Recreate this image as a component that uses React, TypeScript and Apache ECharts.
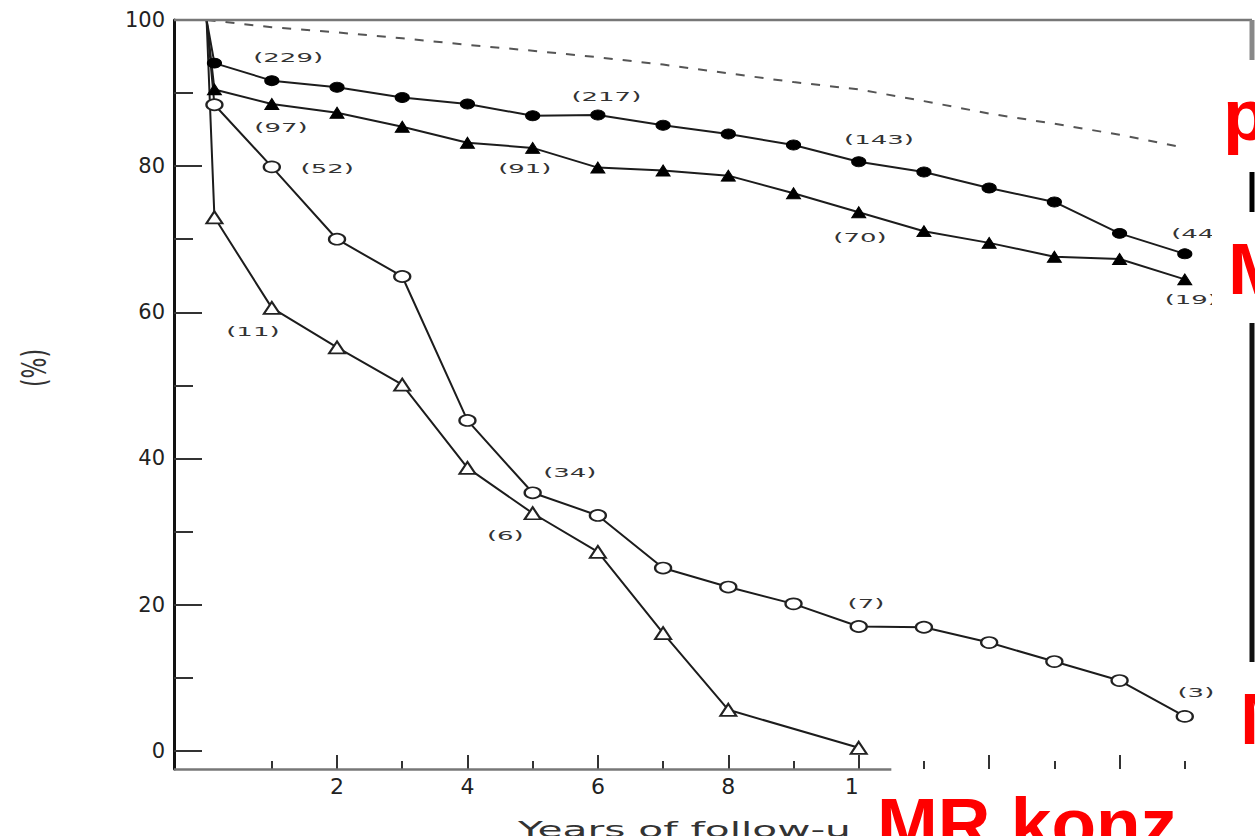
import React, { useEffect, useRef } from "react";
import * as echarts from "echarts";

// ---- data ----
const seriesYears = [0.12, 1, 2, 3, 4, 5, 6, 7, 8, 9, 10, 11, 12, 13, 14, 15];
const filledCircles = [94.1, 91.7, 90.8, 89.4, 88.5, 86.9, 87.0, 85.6, 84.4, 82.9, 80.6, 79.2, 77.0, 75.1, 70.8, 68.0];
const filledTriangles = [90.5, 88.5, 87.3, 85.4, 83.2, 82.5, 79.8, 79.4, 78.7, 76.3, 73.7, 71.1, 69.5, 67.6, 67.3, 64.5];
const openCircles = [88.4, 79.9, 70.0, 64.9, 45.2, 35.3, 32.2, 25.0, 22.4, 20.1, 17.0, 16.9, 14.8, 12.2, 9.6, 4.7];
const openTriangleYears = [0.12, 1, 2, 3, 4, 5, 6, 7, 8, 10];
const openTriangles = [73.0, 60.6, 55.2, 50.1, 38.7, 32.5, 27.2, 16.1, 5.6, 0.4];
const expectedYears = [0, 1, 2, 3, 4, 5, 6, 7, 8, 9, 10, 11, 12, 13, 14, 15];
const expected = [100, 99.0, 98.3, 97.5, 96.6, 95.8, 94.9, 93.9, 92.7, 91.5, 90.5, 88.9, 87.2, 85.8, 84.3, 82.5];

const annotationTexts = ["(229)", "(97)", "(52)", "(11)", "(217)", "(91)", "(143)", "(70)", "(44)", "(19)", "(34)", "(6)", "(7)", "(3)"];
const annotationX = [1.25, 1.14, 1.85, 0.71, 6.13, 4.88, 10.31, 10.02, 15.2, 15.1, 5.57, 4.58, 10.11, 15.17];
const annotationY = [94.8, 85.3, 79.6, 57.4, 89.5, 79.6, 83.7, 70.2, 70.8, 61.7, 38.1, 29.4, 20.1, 7.9];

const yLabelValues = [0, 20, 40, 60, 80, 100];
const yMinorTicks = [10, 30, 50, 70, 90];
const xLabelValues = [2, 4, 6, 8, 10];
const xMajorTicks = [2, 4, 6, 8, 10, 12, 14];
const xMinorTicks = [1, 3, 5, 7, 9, 11, 13, 15];

const yAxisTitle = "(%)";
const xAxisTitle = "Years of follow-u";
const redLabels = ["p", "M", "M", "MR konz"];

const X_MIN = -0.5;
const X_MAX = 16;
const Y_MIN = -2.5;
const Y_MAX = 100;

function build(xs: number[], ys: number[]) {
  return [
    { value: [0, 100], symbol: "none" },
    ...xs.map((x, i) => ({ value: [x, ys[i]] })),
  ];
}

const lineColor = "#1c1c1c";

export default function App() {
  const ref = useRef<HTMLDivElement>(null);

  useEffect(() => {
    if (!ref.current) return;
    const chart = echarts.init(ref.current, null, { renderer: "svg" });

    const baseLine = (name: string, data: any[], symbol: string, size: any, filled: boolean) => ({
      name,
      type: "line",
      data,
      symbol,
      symbolSize: size,
      showAllSymbol: true,
      lineStyle: { color: lineColor, width: 2 },
      itemStyle: filled
        ? { color: "#000", borderColor: "#000", borderWidth: 1 }
        : { color: "#fff", borderColor: "#222", borderWidth: 2 },
      emphasis: { disabled: true },
      z: 3,
    });

    const red = {
      fill: "#ff0000",
      fontFamily: "Liberation Sans",
      fontWeight: "bold",
      fontSize: 73,
      align: "left",
      verticalAlign: "middle",
    };

    const axisFont = { fontFamily: "DejaVu Sans", color: "#222" };

    chart.setOption({
      animation: false,
      backgroundColor: "#ffffff",
      grid: { left: 174, right: 5, top: 20, bottom: 67, containLabel: false },
      xAxis: [
        {
          type: "value",
          min: X_MIN,
          max: X_MAX,
          position: "bottom",
          axisLine: { show: false, onZero: false },
          splitLine: { show: false },
          axisTick: {
            show: true,
            inside: true,
            length: 14,
            customValues: xMajorTicks,
            lineStyle: { color: "#333", width: 2 },
          },
          axisLabel: {
            show: true,
            customValues: xLabelValues,
            margin: 6,
            fontSize: 22,
            ...axisFont,
          },
        },
        {
          type: "value",
          min: X_MIN,
          max: X_MAX,
          position: "bottom",
          axisLine: { show: false, onZero: false },
          splitLine: { show: false },
          axisLabel: { show: false },
          axisTick: {
            show: true,
            inside: true,
            length: 8,
            customValues: xMinorTicks,
            lineStyle: { color: "#333", width: 2 },
          },
        },
      ],
      yAxis: [
        {
          type: "value",
          min: Y_MIN,
          max: Y_MAX,
          position: "left",
          axisLine: { show: true, onZero: false, lineStyle: { color: "#111", width: 3 } },
          splitLine: { show: false },
          axisTick: {
            show: true,
            inside: true,
            length: 28,
            customValues: yLabelValues,
            lineStyle: { color: "#333", width: 2 },
          },
          axisLabel: {
            show: true,
            customValues: yLabelValues,
            margin: 9,
            fontSize: 21,
            ...axisFont,
          },
        },
        {
          type: "value",
          min: Y_MIN,
          max: Y_MAX,
          position: "left",
          axisLine: { show: false, onZero: false },
          splitLine: { show: false },
          axisLabel: { show: false },
          axisTick: {
            show: true,
            inside: true,
            length: 19,
            customValues: yMinorTicks,
            lineStyle: { color: "#333", width: 2 },
          },
        },
      ],
      series: [
        {
          name: "expected",
          type: "line",
          data: expectedYears.map((x, i) => [x, expected[i]]),
          symbol: "none",
          clip: false,
          lineStyle: { color: "#555", width: 2, type: [9, 10] },
          emphasis: { disabled: true },
          markLine: {
            silent: true,
            symbol: "none",
            label: { show: false },
            lineStyle: { color: "#777", width: 2.5, type: "solid" },
            data: [[{ coord: [X_MIN, Y_MIN] }, { coord: [10.5, Y_MIN] }]],
          },
          z: 2,
        },
        baseLine("filledCircles", build(seriesYears, filledCircles), "circle", [14, 10], true),
        baseLine("filledTriangles", build(seriesYears, filledTriangles), "triangle", [14, 11], true),
        baseLine("openCircles", build(seriesYears, openCircles), "circle", [16, 11], false),
        baseLine("openTriangles", build(openTriangleYears, openTriangles), "triangle", [16, 12], false),
        {
          name: "annotations",
          type: "custom",
          coordinateSystem: "cartesian2d",
          silent: true,
          clip: false,
          z: 5,
          data: annotationX.map((x, i) => [x, annotationY[i], i]),
          renderItem: (params: any, api: any) => {
            const p = api.coord([api.value(0), api.value(1)]);
            const i = api.value(2);
            return {
              type: "text",
              x: p[0],
              y: p[1],
              scaleX: 2,
              style: {
                text: annotationTexts[i],
                fontSize: 13,
                fontFamily: "DejaVu Sans",
                fill: "#333",
                align: "center",
                verticalAlign: "middle",
              },
            };
          },
        },
      ],
      graphic: [
        { type: "line", z: 100, shape: { x1: 174, y1: 20, x2: 1252, y2: 20 }, style: { stroke: "#777", lineWidth: 2.5 } },
        { type: "line", z: 100, shape: { x1: 1252, y1: 20, x2: 1252, y2: 60 }, style: { stroke: "#888", lineWidth: 5 } },
        { type: "line", z: 100, shape: { x1: 1252, y1: 172, x2: 1252, y2: 212 }, style: { stroke: "#000", lineWidth: 5 } },
        { type: "line", z: 100, shape: { x1: 1252, y1: 323, x2: 1252, y2: 662 }, style: { stroke: "#111", lineWidth: 5 } },
        { type: "rect", z: 100, shape: { x: 858, y: 773, width: 397, height: 63 }, style: { fill: "#fff" } },
        { type: "rect", z: 100, shape: { x: 1212, y: 213, width: 43, height: 109 }, style: { fill: "#fff" } },
        { type: "rect", z: 100, shape: { x: 1222, y: 663, width: 33, height: 100 }, style: { fill: "#fff" } },
        {
          type: "text",
          z: 101,
          x: 35,
          y: 368,
          rotation: Math.PI / 2,
          scaleY: 1.5,
          style: { text: yAxisTitle, fontSize: 22, fontFamily: "DejaVu Sans", fill: "#333", align: "center", verticalAlign: "middle" },
        },
        {
          type: "text",
          z: 101,
          x: 518,
          y: 830,
          scaleX: 1.85,
          style: { text: xAxisTitle, fontSize: 22, fontFamily: "DejaVu Sans", fill: "#333", align: "left", verticalAlign: "middle" },
        },
        { type: "text", z: 102, x: 1223, y: 114, style: { ...red, text: redLabels[0] } },
        { type: "text", z: 102, x: 1228, y: 268, style: { ...red, text: redLabels[1] } },
        { type: "text", z: 102, x: 1240, y: 718, style: { ...red, text: redLabels[2] } },
        { type: "text", z: 102, x: 877, y: 823, style: { ...red, text: redLabels[3] } },
      ],
    });

    return () => chart.dispose();
  }, []);

  return (
    <div
      ref={ref}
      style={{ position: "absolute", left: 0, top: 0, width: 1255, height: 836, background: "#fff" }}
    />
  );
}
